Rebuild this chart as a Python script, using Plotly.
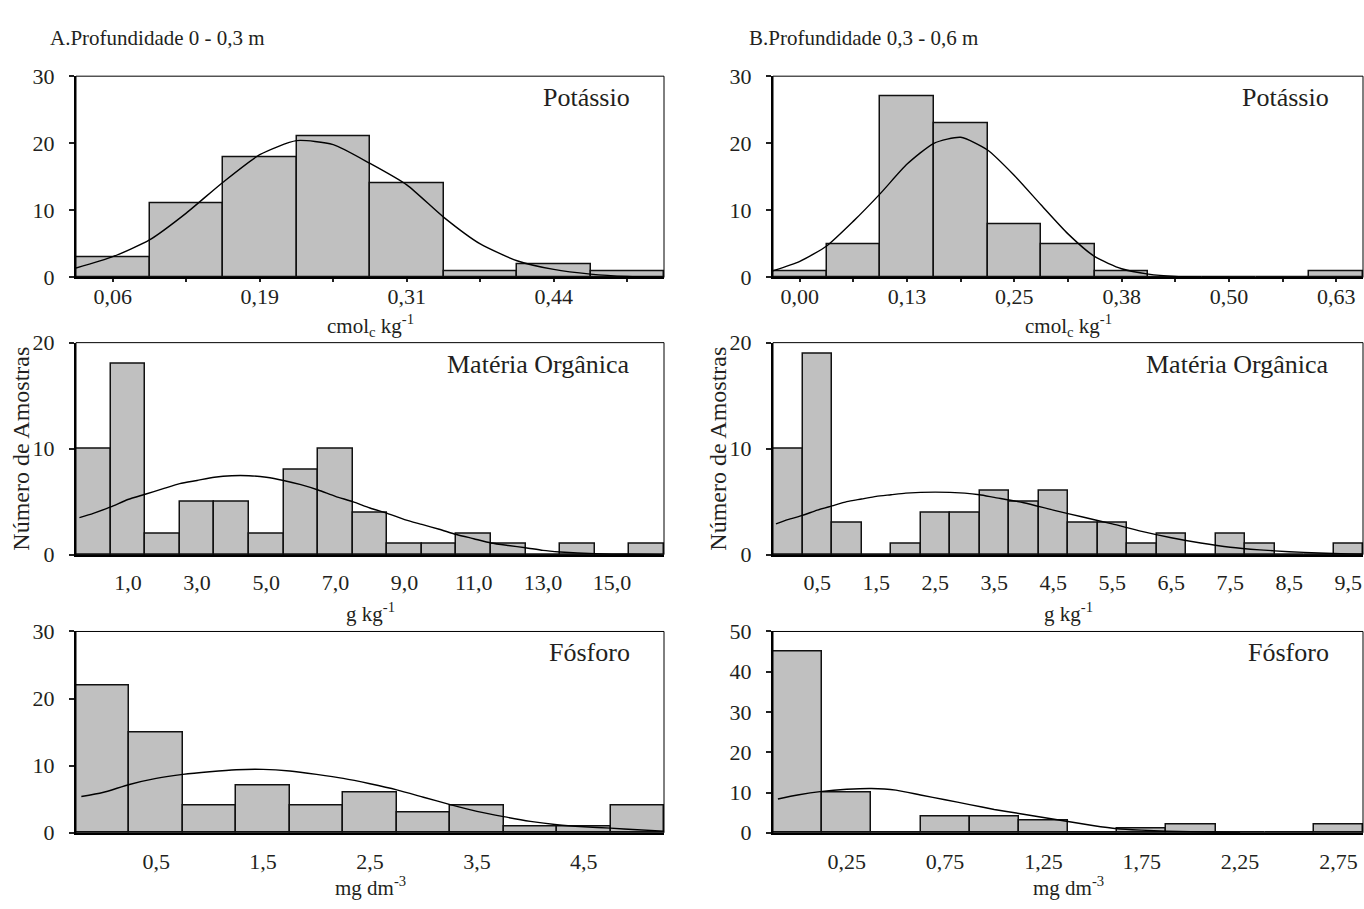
import plotly.graph_objects as go
from plotly.subplots import make_subplots

# ---------------- data ----------------
# A. Profundidade 0 - 0,3 m
a_k_bins = [0.0625, 0.125, 0.1875, 0.25, 0.3125, 0.375, 0.4375, 0.5]
a_k_counts = [3, 11, 18, 21, 14, 1, 2, 1]
a_k_ticktext = ["0,06", "", "0,19", "", "0,31", "", "0,44", ""]
a_k_curve_x = [0.03125, 0.0625, 0.09375, 0.125, 0.15625, 0.1875, 0.21875, 0.25, 0.28125,
               0.3125, 0.34375, 0.375, 0.40625, 0.4375, 0.46875, 0.5, 0.53125]
a_k_curve_y = [1.4, 3.1, 5.6, 9.6, 14.2, 18.3, 20.4, 19.8, 17.0, 13.8, 9.0, 5.0, 2.5, 1.2, 0.5, 0.15, 0.05]

a_mo_bins = [0, 1, 2, 3, 4, 5, 6, 7, 8, 9, 10, 11, 12, 13, 14, 15, 16]
a_mo_counts = [10, 18, 2, 5, 5, 2, 8, 10, 4, 1, 1, 2, 1, 0, 1, 0, 1]
a_mo_ticktext = ["", "1,0", "", "3,0", "", "5,0", "", "7,0", "", "9,0", "", "11,0", "", "13,0", "", "15,0", ""]
a_mo_curve_x = [-0.4, 0, 0.5, 1, 1.5, 2, 2.5, 3, 3.5, 4, 4.5, 5, 5.5, 6, 6.5, 7, 7.5, 8, 8.5, 9,
                9.5, 10, 10.5, 11, 11.5, 12, 12.5, 13, 13.5, 14, 15, 16, 16.4]
a_mo_curve_y = [3.5, 3.9, 4.5, 5.2, 5.7, 6.2, 6.7, 7.0, 7.3, 7.45, 7.45, 7.3, 7.0, 6.6, 6.1, 5.5, 5.0,
                4.4, 3.9, 3.3, 2.85, 2.4, 1.9, 1.5, 1.1, 0.86, 0.65, 0.4, 0.25, 0.15, 0.05, 0.02, 0.0]

a_p_bins = [0.0, 0.5, 1.0, 1.5, 2.0, 2.5, 3.0, 3.5, 4.0, 4.5, 5.0]
a_p_counts = [22, 15, 4, 7, 4, 6, 3, 4, 1, 1, 4]
a_p_ticktext = ["", "0,5", "", "1,5", "", "2,5", "", "3,5", "", "4,5", ""]
a_p_curve_x = [-0.2, 0.0, 0.25, 0.5, 0.75, 1.0, 1.25, 1.5, 1.75, 2.0, 2.25, 2.5, 2.75, 3.0,
               3.25, 3.5, 3.75, 4.0, 4.25, 4.5, 4.75, 5.0, 5.25]
a_p_curve_y = [5.4, 6.0, 7.2, 8.1, 8.7, 9.1, 9.4, 9.45, 9.2, 8.7, 8.1, 7.3, 6.4, 5.3,
               4.2, 3.2, 2.4, 1.7, 1.2, 0.9, 0.7, 0.45, 0.25]

# B. Profundidade 0,3 - 0,6 m
b_k_bins = [0.0, 0.0625, 0.125, 0.1875, 0.25, 0.3125, 0.375, 0.4375, 0.5, 0.5625, 0.625]
b_k_counts = [1, 5, 27, 23, 8, 5, 1, 0, 0, 0, 1]
b_k_ticktext = ["0,00", "", "0,13", "", "0,25", "", "0,38", "", "0,50", "", "0,63"]
b_k_curve_x = [-0.03125, 0.0, 0.03125, 0.0625, 0.09375, 0.125, 0.15625, 0.1875, 0.21875, 0.25,
               0.28125, 0.3125, 0.34375, 0.375, 0.40625, 0.4375, 0.46875, 0.5]
b_k_curve_y = [1.0, 2.4, 4.7, 8.4, 12.5, 16.9, 20.0, 20.9, 19.0, 15.2, 10.8, 6.5, 3.1, 1.3, 0.5, 0.15, 0.05, 0.0]

b_mo_bins = [0.0, 0.5, 1.0, 1.5, 2.0, 2.5, 3.0, 3.5, 4.0, 4.5, 5.0, 5.5, 6.0, 6.5, 7.0, 7.5, 8.0, 8.5, 9.0, 9.5]
b_mo_counts = [10, 19, 3, 0, 1, 4, 4, 6, 5, 6, 3, 3, 1, 2, 0, 2, 1, 0, 0, 1]
b_mo_ticktext = ["", "0,5", "", "1,5", "", "2,5", "", "3,5", "", "4,5", "", "5,5", "", "6,5", "", "7,5", "", "8,5", "", "9,5"]
b_mo_curve_x = [-0.2, 0.0, 0.25, 0.5, 0.75, 1.0, 1.25, 1.5, 1.75, 2.0, 2.5, 3.0, 3.25, 3.5, 4.0,
                4.5, 5.0, 5.5, 6.0, 6.5, 7.0, 7.5, 8.0, 8.5, 9.0, 9.5, 9.75]
b_mo_curve_y = [2.9, 3.3, 3.7, 4.2, 4.6, 5.0, 5.25, 5.5, 5.65, 5.8, 5.9, 5.8, 5.65, 5.4, 4.9,
                4.2, 3.55, 2.9, 2.2, 1.6, 1.1, 0.7, 0.45, 0.28, 0.15, 0.07, 0.04]

b_p_bins = [0.0, 0.25, 0.5, 0.75, 1.0, 1.25, 1.5, 1.75, 2.0, 2.25, 2.5, 2.75]
b_p_counts = [45, 10, 0, 4, 4, 3, 0, 1, 2, 0, 0, 2]
b_p_ticktext = ["", "0,25", "", "0,75", "", "1,25", "", "1,75", "", "2,25", "", "2,75"]
b_p_curve_x = [-0.1, 0.0, 0.125, 0.25, 0.375, 0.5, 0.625, 0.75, 0.875, 1.0, 1.125, 1.25, 1.375,
               1.5, 1.625, 1.75, 1.875, 2.0, 2.125, 2.25]
b_p_curve_y = [8.4, 9.4, 10.3, 10.8, 11.0, 10.6, 9.4, 8.2, 7.0, 5.8, 4.8, 3.8, 2.8,
               1.8, 1.0, 0.65, 0.4, 0.25, 0.15, 0.05]

panel_names = ["Potássio", "Matéria Orgânica", "Fósforo"]
unit_titles = ["cmol<sub>c</sub> kg<sup>-1</sup>", "g kg<sup>-1</sup>", "mg dm<sup>-3</sup>"]
y_max = {"A": [30, 20, 30], "B": [30, 20, 50]}
depth_titles = ["A.Profundidade 0 - 0,3 m", "B.Profundidade 0,3 - 0,6 m"]
y_title = "Número de Amostras"

# ---------------- layout helpers ----------------
W, H = 1364, 909
FONT = "Liberation Serif, Times New Roman, serif"
TXT = "#231f20"
BAR = "#c0c0c0"

col_px = {1: (76, 664), 2: (773, 1363)}
row_px = {1: (66, 273), 2: (340, 558), 3: (637, 844)}
unit_y_px = {1: 322, 2: 617, 3: 899}
tick_standoff = {1: -5, 2: 7, 3: 8}

def fx(p):
    return p / W

def fy(p):
    return 1 - p / H

panels = [
    (1, 1, a_k_bins, a_k_counts, a_k_ticktext, a_k_curve_x, a_k_curve_y, y_max["A"][0], True),
    (1, 2, b_k_bins, b_k_counts, b_k_ticktext, b_k_curve_x, b_k_curve_y, y_max["B"][0], True),
    (2, 1, a_mo_bins, a_mo_counts, a_mo_ticktext, a_mo_curve_x, a_mo_curve_y, y_max["A"][1], False),
    (2, 2, b_mo_bins, b_mo_counts, b_mo_ticktext, b_mo_curve_x, b_mo_curve_y, y_max["B"][1], False),
    (3, 1, a_p_bins, a_p_counts, a_p_ticktext, a_p_curve_x, a_p_curve_y, y_max["A"][2], False),
    (3, 2, b_p_bins, b_p_counts, b_p_ticktext, b_p_curve_x, b_p_curve_y, y_max["B"][2], False),
]

fig = make_subplots(rows=3, cols=2)
annotations = []
shapes = []

for idx, (r, c, bins, counts, ticktext, cx, cy, ymax, xticks) in enumerate(panels):
    w = bins[1] - bins[0]
    fig.add_trace(go.Bar(x=bins, y=counts, width=w,
                         marker=dict(color=BAR, line=dict(color="#111", width=1.5)),
                         hoverinfo="skip"), row=r, col=c)
    fig.add_trace(go.Scatter(x=cx, y=cy, mode="lines",
                             line=dict(color="#000", width=1.4, shape="spline", smoothing=0.6),
                             hoverinfo="skip"), row=r, col=c)
    x0p, x1p = col_px[c]
    y0p, y1p = row_px[r]
    n = idx + 1
    xa = "xaxis" if n == 1 else f"xaxis{n}"
    ya = "yaxis" if n == 1 else f"yaxis{n}"
    lab_vals = [b for b, t in zip(bins, ticktext) if t]
    lab_text = [t for t in ticktext if t]
    minor_vals = [b for b, t in zip(bins, ticktext) if not t]
    xaxis_cfg = dict(
        domain=[fx(x0p), fx(x1p)],
        range=[bins[0] - w / 2, bins[-1] + w / 2],
        tickmode="array", tickvals=lab_vals, ticktext=lab_text,
        ticks="outside" if xticks else "", ticklen=3, tickwidth=2, tickcolor="#222",
        showline=True, linecolor="#000", linewidth=2,
        showgrid=False, zeroline=False,
        tickfont=dict(family=FONT, size=22, color=TXT),
        ticklabelstandoff=tick_standoff[r],
    )
    if xticks:
        xaxis_cfg["minor"] = dict(tickmode="array", tickvals=minor_vals, ticks="outside",
                                  ticklen=3, tickwidth=2, tickcolor="#222", showgrid=False)
    fig.layout[xa].update(**xaxis_cfg)
    fig.layout[ya].update(
        domain=[fy(y1p), fy(y0p)],
        range=[0, ymax],
        tickmode="array", tickvals=list(range(0, ymax + 1, 10)),
        ticks="outside", ticklen=5, tickwidth=2, tickcolor="#222",
        showline=True, linecolor="#000", linewidth=2,
        showgrid=False, zeroline=False,
        tickfont=dict(family=FONT, size=22, color=TXT),
        ticklabelstandoff=10,
    )
    xref = "x" if n == 1 else f"x{n}"
    yref = "y" if n == 1 else f"y{n}"
    # thin frame on top and right
    shapes.append(dict(type="rect", xref=f"{xref} domain", yref=f"{yref} domain",
                       x0=0, x1=1, y0=0, y1=1, line=dict(color="#000", width=1)))
    # panel name
    annotations.append(dict(text=panel_names[r - 1], xref="paper", yref="paper",
                            x=fx(x1p - 32), y=fy(y0p + 22), xanchor="right", yanchor="middle",
                            showarrow=False, font=dict(family=FONT, size=26, color=TXT)))
    # unit title
    annotations.append(dict(text=unit_titles[r - 1], xref="paper", yref="paper",
                            x=fx((x0p + x1p) / 2), y=fy(unit_y_px[r]), xanchor="center", yanchor="middle",
                            showarrow=False, font=dict(family=FONT, size=21, color=TXT)))

# depth titles
annotations.append(dict(text=depth_titles[0], xref="paper", yref="paper", x=fx(48), y=fy(27),
                        xanchor="left", yanchor="middle", showarrow=False,
                        font=dict(family=FONT, size=21, color=TXT)))
annotations.append(dict(text=depth_titles[1], xref="paper", yref="paper", x=fx(747), y=fy(27),
                        xanchor="left", yanchor="middle", showarrow=False,
                        font=dict(family=FONT, size=21, color=TXT)))
# y-axis titles
for xp in (21, 718):
    annotations.append(dict(text=y_title, xref="paper", yref="paper", x=fx(xp), y=fy(449),
                            xanchor="center", yanchor="middle", textangle=-90, showarrow=False,
                            font=dict(family=FONT, size=24, color=TXT)))

fig.update_layout(
    width=W, height=H,
    margin=dict(l=0, r=0, t=0, b=0),
    paper_bgcolor="white", plot_bgcolor="white",
    showlegend=False, bargap=0,
    annotations=annotations, shapes=shapes,
)

pin_js = (
    "document.body.style.margin='0px';"
    "document.body.style.padding='0px';"
    "document.body.style.overflow='hidden';"
    "var d=document.getElementById('{plot_id}');"
    "d.style.position='absolute';d.style.left='0px';d.style.top='0px';"
)
fig.write_html("out.html", config={"responsive": False, "displayModeBar": False},
               post_script=pin_js)
